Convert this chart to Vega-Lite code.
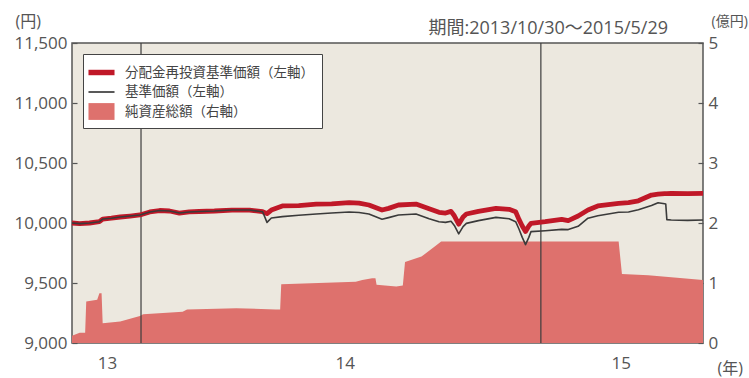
{
  "$schema": "https://vega.github.io/schema/vega-lite/v6.json",
  "width": 631,
  "height": 300,
  "autosize": {"type": "none"},
  "padding": {"left": 72, "top": 43, "right": 46, "bottom": 35},
  "background": "white",
  "config": {
    "view": {"fill": "#ece8df", "stroke": "#555555", "strokeWidth": 1.5},
    "font": "Open Sans, Noto Sans CJK JP",
    "axis": {
      "labelFont": "Open Sans, Noto Sans CJK JP",
      "labelFontSize": 17,
      "labelColor": "#555555",
      "titleFont": "Open Sans, Noto Sans CJK JP",
      "titleFontSize": 16,
      "titleFontWeight": "normal",
      "titleColor": "#555555",
      "grid": false,
      "domain": false,
      "tickColor": "#555555",
      "tickWidth": 1.2
    }
  },
  "title": {
    "text": "期間:2013/10/30～2015/5/29",
    "anchor": "end",
    "frame": "group",
    "font": "Open Sans, Noto Sans CJK JP",
    "fontSize": 18,
    "fontWeight": "normal",
    "color": "#555555",
    "baseline": "alphabetic",
    "dx": -35,
    "offset": -39
  },
  "datasets": {
    "assets": [
      {"date": "2013-10-30", "assets": 0.12},
      {"date": "2013-11-06", "assets": 0.17},
      {"date": "2013-11-11", "assets": 0.17},
      {"date": "2013-11-12", "assets": 0.69},
      {"date": "2013-11-22", "assets": 0.72},
      {"date": "2013-11-24", "assets": 0.83},
      {"date": "2013-11-26", "assets": 0.83},
      {"date": "2013-11-27", "assets": 0.33},
      {"date": "2013-12-13", "assets": 0.36},
      {"date": "2013-12-31", "assets": 0.45},
      {"date": "2014-01-03", "assets": 0.48},
      {"date": "2014-02-08", "assets": 0.52},
      {"date": "2014-02-12", "assets": 0.56},
      {"date": "2014-03-29", "assets": 0.58},
      {"date": "2014-05-04", "assets": 0.56},
      {"date": "2014-05-08", "assets": 0.56},
      {"date": "2014-05-09", "assets": 0.98},
      {"date": "2014-07-16", "assets": 1.02},
      {"date": "2014-07-22", "assets": 1.05},
      {"date": "2014-07-31", "assets": 1.08},
      {"date": "2014-08-03", "assets": 1.08},
      {"date": "2014-08-04", "assets": 0.97},
      {"date": "2014-08-22", "assets": 0.94},
      {"date": "2014-08-28", "assets": 0.96},
      {"date": "2014-08-30", "assets": 1.35},
      {"date": "2014-09-14", "assets": 1.44},
      {"date": "2014-09-27", "assets": 1.62},
      {"date": "2014-10-02", "assets": 1.69},
      {"date": "2015-03-13", "assets": 1.69},
      {"date": "2015-03-16", "assets": 1.15},
      {"date": "2015-04-09", "assets": 1.13},
      {"date": "2015-05-29", "assets": 1.05}
    ],
    "yearStarts": [
      {"date": "2014-01-01"},
      {"date": "2015-01-01"}
    ],
    "prices": [
      {"date": "2013-10-30", "reinvested": 10000, "nav": 10000},
      {"date": "2013-11-06", "reinvested": 9995, "nav": 9995},
      {"date": "2013-11-15", "reinvested": 10000, "nav": 10000},
      {"date": "2013-11-24", "reinvested": 10011, "nav": 10011},
      {"date": "2013-11-27", "reinvested": 10033, "nav": 10033},
      {"date": "2013-12-05", "reinvested": 10040, "nav": 10040},
      {"date": "2013-12-13", "reinvested": 10050, "nav": 10050},
      {"date": "2013-12-22", "reinvested": 10058, "nav": 10058},
      {"date": "2013-12-31", "reinvested": 10067, "nav": 10067},
      {"date": "2014-01-09", "reinvested": 10092, "nav": 10092},
      {"date": "2014-01-18", "reinvested": 10104, "nav": 10104},
      {"date": "2014-01-27", "reinvested": 10100, "nav": 10100},
      {"date": "2014-02-05", "reinvested": 10083, "nav": 10083},
      {"date": "2014-02-14", "reinvested": 10092, "nav": 10092},
      {"date": "2014-02-23", "reinvested": 10096, "nav": 10096},
      {"date": "2014-03-09", "reinvested": 10100, "nav": 10100},
      {"date": "2014-03-25", "reinvested": 10108, "nav": 10108},
      {"date": "2014-04-10", "reinvested": 10108, "nav": 10108},
      {"date": "2014-04-22", "reinvested": 10094, "nav": 10094},
      {"date": "2014-04-26", "reinvested": 10078, "nav": 10005},
      {"date": "2014-04-30", "reinvested": 10108, "nav": 10042},
      {"date": "2014-05-10", "reinvested": 10142, "nav": 10053},
      {"date": "2014-05-25", "reinvested": 10145, "nav": 10065},
      {"date": "2014-06-10", "reinvested": 10158, "nav": 10075},
      {"date": "2014-06-24", "reinvested": 10160, "nav": 10083},
      {"date": "2014-07-10", "reinvested": 10169, "nav": 10092},
      {"date": "2014-07-19", "reinvested": 10166, "nav": 10088},
      {"date": "2014-07-28", "reinvested": 10150, "nav": 10075},
      {"date": "2014-08-09", "reinvested": 10108, "nav": 10031},
      {"date": "2014-08-15", "reinvested": 10122, "nav": 10045},
      {"date": "2014-08-24", "reinvested": 10150, "nav": 10067},
      {"date": "2014-09-09", "reinvested": 10158, "nav": 10075},
      {"date": "2014-09-21", "reinvested": 10118, "nav": 10036},
      {"date": "2014-09-30", "reinvested": 10089, "nav": 10010},
      {"date": "2014-10-06", "reinvested": 10083, "nav": 10005},
      {"date": "2014-10-11", "reinvested": 10097, "nav": 10015},
      {"date": "2014-10-14", "reinvested": 10060, "nav": 9980},
      {"date": "2014-10-18", "reinvested": 9990, "nav": 9910},
      {"date": "2014-10-22", "reinvested": 10050, "nav": 9970},
      {"date": "2014-10-25", "reinvested": 10075, "nav": 9997},
      {"date": "2014-11-05", "reinvested": 10097, "nav": 10020},
      {"date": "2014-11-21", "reinvested": 10122, "nav": 10047},
      {"date": "2014-12-03", "reinvested": 10114, "nav": 10036},
      {"date": "2014-12-09", "reinvested": 10094, "nav": 10011},
      {"date": "2014-12-12", "reinvested": 10030, "nav": 9950},
      {"date": "2014-12-15", "reinvested": 9975, "nav": 9880},
      {"date": "2014-12-18", "reinvested": 9930, "nav": 9820},
      {"date": "2014-12-21", "reinvested": 9975, "nav": 9880},
      {"date": "2014-12-23", "reinvested": 9997, "nav": 9928},
      {"date": "2015-01-05", "reinvested": 10011, "nav": 9936},
      {"date": "2015-01-20", "reinvested": 10031, "nav": 9947},
      {"date": "2015-01-26", "reinvested": 10020, "nav": 9945},
      {"date": "2015-02-04", "reinvested": 10058, "nav": 9972},
      {"date": "2015-02-13", "reinvested": 10108, "nav": 10040},
      {"date": "2015-02-22", "reinvested": 10142, "nav": 10061},
      {"date": "2015-03-13", "reinvested": 10164, "nav": 10090},
      {"date": "2015-03-22", "reinvested": 10169, "nav": 10092},
      {"date": "2015-03-31", "reinvested": 10185, "nav": 10110},
      {"date": "2015-04-12", "reinvested": 10233, "nav": 10145},
      {"date": "2015-04-18", "reinvested": 10240, "nav": 10169},
      {"date": "2015-04-24", "reinvested": 10245, "nav": 10160},
      {"date": "2015-04-25", "reinvested": 10245, "nav": 10158},
      {"date": "2015-04-26", "reinvested": 10245, "nav": 10028},
      {"date": "2015-04-30", "reinvested": 10247, "nav": 10025},
      {"date": "2015-05-15", "reinvested": 10245, "nav": 10022},
      {"date": "2015-05-29", "reinvested": 10247, "nav": 10025}
    ]
  },
  "layer": [
    {
      "data": {"name": "assets"},
      "mark": {"type": "area", "opacity": 1},
      "encoding": {
        "x": {
          "field": "date",
          "type": "temporal",
          "scale": {
            "type": "utc",
            "domain": [
              {"year": 2013, "month": 10, "date": 30, "utc": true},
              {"year": 2015, "month": 5, "date": 29, "utc": true}
            ]
          },
          "axis": {
            "values": [
              {"year": 2013, "month": 12, "date": 1, "utc": true},
              {"year": 2014, "month": 7, "date": 6, "utc": true},
              {"year": 2015, "month": 3, "date": 15, "utc": true}
            ],
            "labelExpr": "utcFormat(datum.value, '%y')",
            "labelFlush": false,
            "ticks": false,
            "labelPadding": 12,
            "title": "(年)",
            "titleAngle": 0,
            "titleAlign": "left",
            "titleBaseline": "middle",
            "titleX": 645,
            "titleY": 25
          }
        },
        "y": {
          "field": "assets",
          "type": "quantitative",
          "scale": {"domain": [0, 5], "nice": false},
          "axis": {
            "orient": "right",
            "values": [0, 1, 2, 3, 4, 5],
            "tickSize": -5,
            "labelPadding": 10,
            "title": "(億円)",
            "titleFontSize": 14,
            "titleAngle": 0,
            "titleAlign": "left",
            "titleBaseline": "middle",
            "titleX": 8,
            "titleY": -22
          }
        },
        "color": {
          "datum": "純資産総額（右軸）",
          "scale": {
            "domain": ["分配金再投資基準価額（左軸）", "基準価額（左軸）", "純資産総額（右軸）"],
            "range": ["#c01828", "#3a3a3a", "#de716d"]
          },
          "legend": {
            "orient": "none",
            "legendX": 11,
            "legendY": 11,
            "title": null,
            "direction": "vertical",
            "fillColor": "white",
            "strokeColor": "#444444",
            "padding": 8,
            "rowPadding": 2.5,
            "symbolType": {"expr": "datum.value === '純資産総額（右軸）' ? 'M-1.24,-0.8H1.24V0.8H-1.24Z' : datum.value === '基準価額（左軸）' ? 'M-1.24,-0.08H1.24V0.08H-1.24Z' : 'M-1.24,-0.26H1.24V0.26H-1.24Z'"},
            "symbolSize": 441,
            "symbolStrokeWidth": 0,
            "symbolOpacity": 1,
            "labelOffset": 13,
            "labelFont": "Noto Sans CJK JP",
            "labelFontSize": 13.5,
            "labelColor": "#444444",
            "labelLimit": 400
          }
        }
      }
    },
    {
      "data": {"name": "yearStarts"},
      "mark": {"type": "rule", "color": "#3d3d3d", "strokeWidth": 1.2},
      "encoding": {
        "x": {"field": "date", "type": "temporal"}
      }
    },
    {
      "data": {"name": "prices"},
      "encoding": {
        "x": {"field": "date", "type": "temporal"}
      },
      "layer": [
        {
          "mark": {"type": "line", "color": "#c01828", "strokeWidth": 4.8, "strokeJoin": "round"},
          "encoding": {
            "y": {
              "field": "reinvested",
              "type": "quantitative",
              "scale": {"domain": [9000, 11500], "nice": false, "zero": false},
              "axis": {
                "orient": "left",
                "values": [9000, 9500, 10000, 10500, 11000, 11500],
                "format": ",.0f",
                "tickSize": -5,
                "labelPadding": 10,
                "title": "(円)",
                "titleAngle": 0,
                "titleAlign": "left",
                "titleBaseline": "middle",
                "titleX": -57,
                "titleY": -22
              }
            }
          }
        },
        {
          "mark": {"type": "line", "color": "#3a3a3a", "strokeWidth": 1.6, "strokeJoin": "round"},
          "encoding": {
            "y": {"field": "nav", "type": "quantitative", "axis": {"format": ",.0f"}}
          }
        }
      ]
    }
  ],
  "resolve": {"scale": {"y": "independent"}}
}
